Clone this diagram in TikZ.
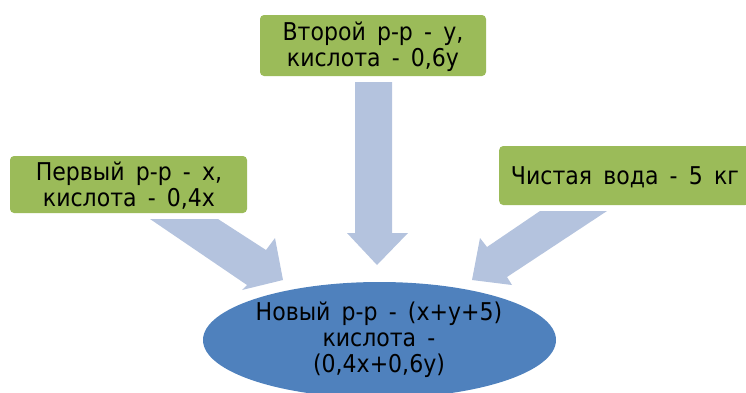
\documentclass[tikz,border=0pt]{standalone}
\usepackage{fontspec}
\setmainfont[WordSpace=1.6]{DejaVu Sans Condensed}
\usetikzlibrary{shapes.geometric}
\definecolor{boxgreen}{HTML}{9BBB59}
\definecolor{ovalblue}{HTML}{4F81BD}
\definecolor{arrowblue}{HTML}{B4C3DE}
\begin{document}
\begin{tikzpicture}[x=1pt,y=-1pt,
  labelfont/.style={font=\fontsize{24.5}{26}\selectfont},
  srcbox/.style={fill=boxgreen,rounded corners=4pt,inner sep=0pt},
  boxtext/.style={align=center,inner sep=0pt,labelfont},
  blockarrow/.style={fill=arrowblue,draw=none}]
\useasboundingbox (0,0) rectangle (746,392);

% block arrows pointing at the result
\fill[blockarrow] (355,82) -- (392,82) -- (392,233) -- (408,233) -- (377,265)
  -- (347,233) -- (355,233) -- cycle;
\fill[blockarrow] (150,219) -- (218,219) -- (266,250) -- (275,238) -- (283,280)
  -- (242,290) -- (247,285) -- cycle;
\fill[blockarrow] (607,211) -- (540,211) -- (487,247) -- (480,238) -- (472,280)
  -- (512,285) -- (507,277) -- cycle;

% source boxes
\node[srcbox,minimum width=226pt,minimum height=61pt] (second) at (373,45.5) {};
\node[boxtext] (secondtext) at (373,47) {Второй р-р - y,\\кислота - 0,6y};
\node[srcbox,minimum width=237pt,minimum height=57pt] (first) at (128.5,184.5) {};
\node[boxtext] (firsttext) at (129,186) {Первый р-р - x,\\кислота - 0,4x};
\node[srcbox,minimum width=250pt,minimum height=59pt,anchor=west] (water) at (499,175.5) {};
\node[boxtext] (watertext) at (625,177) {Чистая вода - 5 кг};

% resulting solution
\node[ellipse,fill=ovalblue,minimum width=353pt,minimum height=116pt,inner sep=0pt]
  (result) at (379.5,340) {};
\node[boxtext] (resulttext) at (379,340) {Новый р-р - (x+y+5)\\кислота -\\(0,4x+0,6y)};
\end{tikzpicture}
\end{document}
